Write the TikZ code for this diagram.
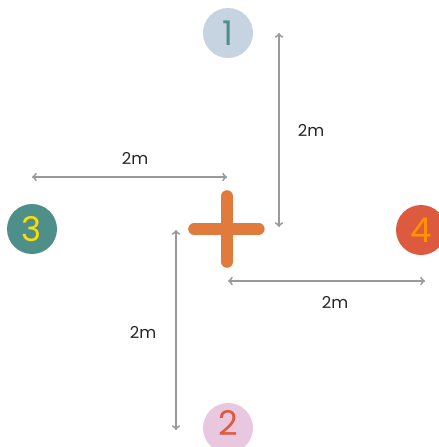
\documentclass[tikz,border=0pt]{standalone}
\usepackage{fontspec}
\setmainfont{Poppins}
\usepackage{xcolor}
\usepackage{tikz}

\definecolor{spotblue}{HTML}{C6D4E2}
\definecolor{spotteal}{HTML}{4F8F8A}
\definecolor{spotred}{HTML}{DE5A3E}
\definecolor{spotpink}{HTML}{E9C7DF}
\definecolor{crossorange}{HTML}{E07B3D}
\definecolor{dimgray}{HTML}{9A9A9A}

\tikzset{
    spot/.style={circle, minimum size=1.5cm, inner sep=0pt, font=\fontsize{29}{29}\selectfont},
    digit/.style={inner sep=0pt, font=\fontsize{29}{29}\selectfont},
    dimline/.style={<->, dimgray, line width=1.6pt, >=to},
    dimlabel/.style={font=\fontsize{14}{14}\selectfont, text=black!85}
}

\begin{document}
\begin{tikzpicture}[x=0.03cm, y=-0.03cm]
    \useasboundingbox (0,0) rectangle (438,447);

    % Spots
    \node[spot, fill=spotblue, text=spotteal] (one) at (228,33) {1};
    \node[spot, fill=spotteal, text=yellow!80!orange] (three) at (32,229) {3};
    \node[spot, fill=spotred, text=orange!85!yellow] (four) at (421,230) {4};
    \fill[spotpink] (228,428) circle (25);
    \node[digit, text=spotred] (two) at (228,423) {2};

    % Cross in the middle
    \coordinate (cross) at (227,229);
    \draw[crossorange, line width=0.36cm, line cap=round] ([xshift=-28]cross) -- ([xshift=27]cross);
    \draw[crossorange, line width=0.36cm, line cap=round] ([yshift=-28]cross) -- ([yshift=28]cross);

    % Distances
    \coordinate (upA) at (279,33);
    \coordinate (upB) at (279,227);
    \coordinate (leftA) at (32,177);
    \coordinate (leftB) at (227,177);
    \coordinate (downA) at (176,230);
    \coordinate (downB) at (176,430);
    \coordinate (rightA) at (228,281);
    \coordinate (rightB) at (425,281);

    \draw[dimline] (upA) -- (upB);
    \draw[dimline] (leftA) -- (leftB);
    \draw[dimline] (downA) -- (downB);
    \draw[dimline] (rightA) -- (rightB);

    % Labels
    \node[dimlabel] (upl) at (311,130) {2m};
    \node[dimlabel] (leftl) at (135,158) {2m};
    \node[dimlabel] (downl) at (143,332) {2m};
    \node[dimlabel] (rightl) at (335,302) {2m};
\end{tikzpicture}
\end{document}
